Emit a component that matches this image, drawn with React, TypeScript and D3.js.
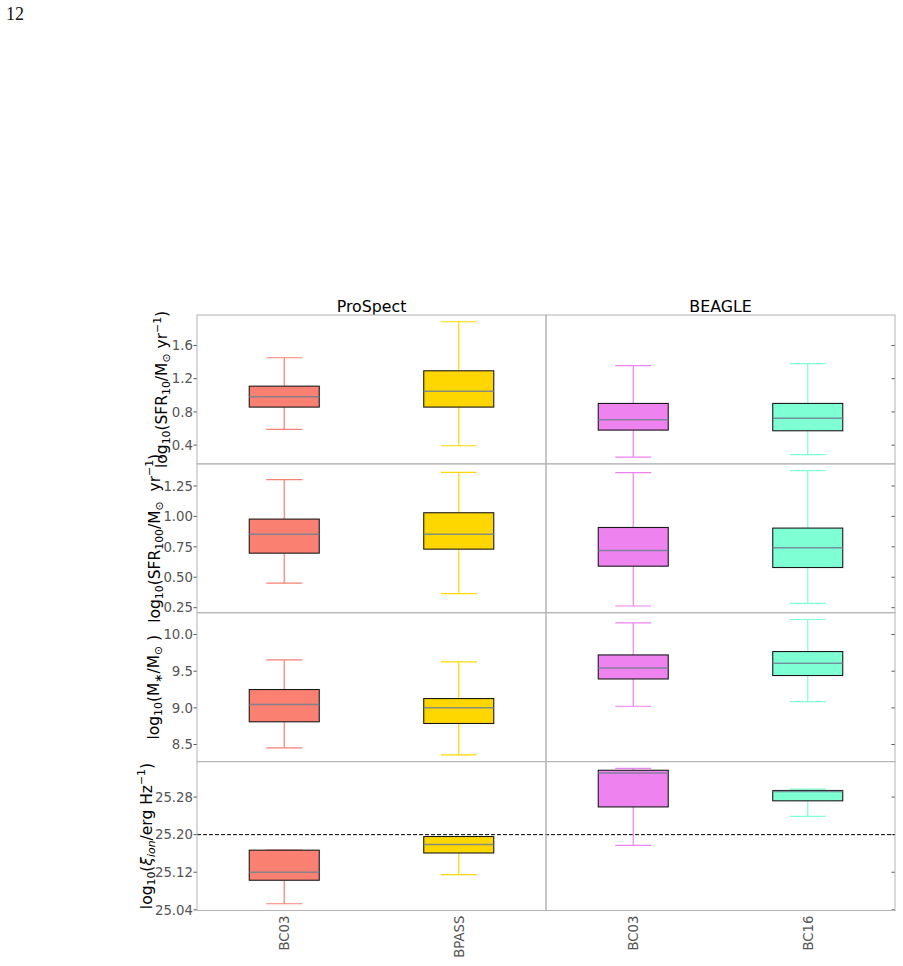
import React from 'react';
import * as d3 from 'd3';

// five-number summaries per box: [whisker low, Q1, median, Q3, whisker high]
// order: ProSpect BC03, ProSpect BPASS, BEAGLE BC03, BEAGLE BC16
const sfr10 = [
  [0.589, 0.858, 0.983, 1.11, 1.452],
  [0.393, 0.858, 1.05, 1.295, 1.885],
  [0.256, 0.581, 0.706, 0.902, 1.356],
  [0.285, 0.573, 0.725, 0.902, 1.38],
];
const sfr100 = [
  [0.451, 0.698, 0.854, 0.978, 1.302],
  [0.366, 0.731, 0.854, 1.03, 1.362],
  [0.264, 0.591, 0.72, 0.909, 1.36],
  [0.285, 0.58, 0.742, 0.904, 1.376],
];
const mstar = [
  [8.454, 8.81, 9.046, 9.25, 9.654],
  [8.359, 8.787, 9.0, 9.127, 9.627],
  [9.022, 9.394, 9.544, 9.722, 10.158],
  [9.086, 9.441, 9.608, 9.768, 10.205],
];
const xiIon = [
  [25.053, 25.103, 25.12, 25.167, 25.167],
  [25.115, 25.161, 25.179, 25.196, 25.196],
  [25.177, 25.259, 25.331, 25.337, 25.341],
  [25.239, 25.272, 25.292, 25.294, 25.297],
];

const codes = ['ProSpect', 'BEAGLE'];
const models = ['BC03', 'BPASS', 'BC03', 'BC16'];
const boxColors = ['salmon', 'gold', 'violet', 'aquamarine'];

const ticks10 = [0.4, 0.8, 1.2, 1.6];
const ticks100 = [0.25, 0.5, 0.75, 1.0, 1.25];
const ticksMass = [8.5, 9.0, 9.5, 10.0];
const ticksXi = [25.04, 25.12, 25.2, 25.28];
const xiRef = 25.2;

type Part = { t: string; s?: 'sub' | 'sup'; it?: boolean };

const rows = [
  {
    data: sfr10, ticks: ticks10, fmt: '.1f', labelX: 167,
    label: [
      { t: 'log' }, { t: '10', s: 'sub' }, { t: '(SFR' }, { t: '10', s: 'sub' },
      { t: '/M' }, { t: '⊙', s: 'sub' }, { t: ' yr' }, { t: '−1', s: 'sup' }, { t: ')' },
    ] as Part[],
  },
  {
    data: sfr100, ticks: ticks100, fmt: '.2f', labelX: 159.5,
    label: [
      { t: 'log' }, { t: '10', s: 'sub' }, { t: '(SFR' }, { t: '100', s: 'sub' },
      { t: '/M' }, { t: '⊙', s: 'sub' }, { t: '\u00a0 yr' }, { t: '−1', s: 'sup' }, { t: ')' },
    ] as Part[],
  },
  {
    data: mstar, ticks: ticksMass, fmt: '.1f', labelX: 158.5,
    label: [
      { t: 'log' }, { t: '10', s: 'sub' }, { t: '(M' }, { t: '∗', s: 'sub' },
      { t: '/M' }, { t: '⊙', s: 'sub' }, { t: '\u00a0)' },
    ] as Part[],
  },
  {
    data: xiIon, ticks: ticksXi, fmt: '.2f', labelX: 151.5,
    label: [
      { t: 'log' }, { t: '10', s: 'sub' }, { t: '(' }, { t: 'ξ', it: true }, { t: 'ion', s: 'sub', it: true },
      { t: '/erg Hz' }, { t: '−1', s: 'sup' }, { t: ')' },
    ] as Part[],
  },
];

const W = 903;
const H = 966;
const left = 197;
const mid = 546;
const right = 895;
const top = 315;
const bottom = 910.5;
const rowH = (bottom - top) / rows.length;
const font = 'DejaVu Sans, sans-serif';
const frame = '#b4b4b4';
const tickGray = '#555';
const tickSize = 13.3;

function MathText({ parts, size }: { parts: Part[]; size: number }) {
  let prev = 0;
  return (
    <>
      {parts.map((p, i) => {
        const shift = p.s === 'sub' ? size * 0.22 : p.s === 'sup' ? -size * 0.4 : 0;
        const dy = shift - prev;
        prev = shift;
        return (
          <tspan
            key={i}
            dy={dy}
            fontSize={p.s ? size * 0.7 : size}
            fontStyle={p.it ? 'italic' : 'normal'}
          >
            {p.t}
          </tspan>
        );
      })}
    </>
  );
}

function BoxPanel({ stats, color, x, y }: { stats: number[]; color: string; x: number; y: d3.ScaleLinear<number, number> }) {
  const [lo, q1, med, q3, hi] = stats;
  const bw = 70;
  const cw = 36;
  return (
    <g>
      <line x1={x} x2={x} y1={y(q3)} y2={y(hi)} stroke={color} strokeWidth={1.2} />
      <line x1={x} x2={x} y1={y(q1)} y2={y(lo)} stroke={color} strokeWidth={1.2} />
      <line x1={x - cw / 2} x2={x + cw / 2} y1={y(hi)} y2={y(hi)} stroke={color} strokeWidth={1.2} />
      <line x1={x - cw / 2} x2={x + cw / 2} y1={y(lo)} y2={y(lo)} stroke={color} strokeWidth={1.2} />
      <rect
        x={x - bw / 2}
        y={y(q3)}
        width={bw}
        height={y(q1) - y(q3)}
        fill={color}
        stroke="#1a1a1a"
        strokeWidth={1.1}
      />
      <line x1={x - bw / 2} x2={x + bw / 2} y1={y(med)} y2={y(med)} stroke="slategray" strokeOpacity={0.85} strokeWidth={1.5} />
    </g>
  );
}

export default function App() {
  const xLeft = d3.scaleLinear().domain([0.5, 2.5]).range([left, mid]);
  const xRight = d3.scaleLinear().domain([0.5, 2.5]).range([mid, right]);
  const xPos = (i: number) => (i < 2 ? xLeft(i + 1) : xRight(i - 1));

  return (
    <>
      <style>{'body{margin:0}'}</style>
      <svg width={W} height={H} style={{ display: 'block', background: '#fff' }}>
        <text x={6} y={20} fontFamily="Liberation Serif, serif" fontSize={18} fill="#111">12</text>

        {codes.map((c, i) => (
          <text
            key={c}
            x={i === 0 ? (left + mid) / 2 : (mid + right) / 2}
            y={312}
            textAnchor="middle"
            fontFamily={font}
            fontSize={15.8}
            fill="#000"
          >
            {c}
          </text>
        ))}

        {rows.map((row, r) => {
          const y0 = top + r * rowH;
          const y1 = y0 + rowH;
          const vals = row.data.flat();
          const [mn, mx] = d3.extent(vals) as [number, number];
          const pad = (mx - mn) * 0.05;
          const y = d3.scaleLinear().domain([mn - pad, mx + pad]).range([y1, y0]);
          const fmt = d3.format(row.fmt);
          return (
            <g key={r}>
              {row.ticks.map((t) => (
                <g key={t}>
                  <line x1={left - 3.5} x2={left} y1={y(t)} y2={y(t)} stroke={tickGray} strokeWidth={1} />
                  <line x1={right - 3.5} x2={right} y1={y(t)} y2={y(t)} stroke={tickGray} strokeWidth={1} />
                  <text
                    x={193}
                    y={y(t)}
                    dy="0.36em"
                    textAnchor="end"
                    fontFamily={font}
                    fontSize={tickSize}
                    fill={tickGray}
                  >
                    {fmt(t)}
                  </text>
                </g>
              ))}

              {r === 3 && (
                <line x1={left} x2={right} y1={y(xiRef)} y2={y(xiRef)} stroke="#000" strokeWidth={1} strokeDasharray="4,2" />
              )}

              {row.data.map((s, i) => (
                <BoxPanel key={i} stats={s} color={boxColors[i]} x={xPos(i)} y={y} />
              ))}

              <rect x={left} y={y0} width={mid - left} height={rowH} fill="none" stroke={frame} strokeWidth={1} />
              <rect x={mid} y={y0} width={right - mid} height={rowH} fill="none" stroke={frame} strokeWidth={1} />

              <text
                transform={`translate(${row.labelX},${(y0 + y1) / 2}) rotate(-90)`}
                textAnchor="middle"
                fontFamily={font}
                fill="#000"
              >
                <MathText parts={row.label} size={15.5} />
              </text>
            </g>
          );
        })}

        {models.map((m, i) => (
          <text
            key={i}
            transform={`translate(${xPos(i) + 4.8},${bottom + 5}) rotate(-90)`}
            textAnchor="end"
            fontFamily={font}
            fontSize={tickSize}
            fill={tickGray}
          >
            {m}
          </text>
        ))}
      </svg>
    </>
  );
}
